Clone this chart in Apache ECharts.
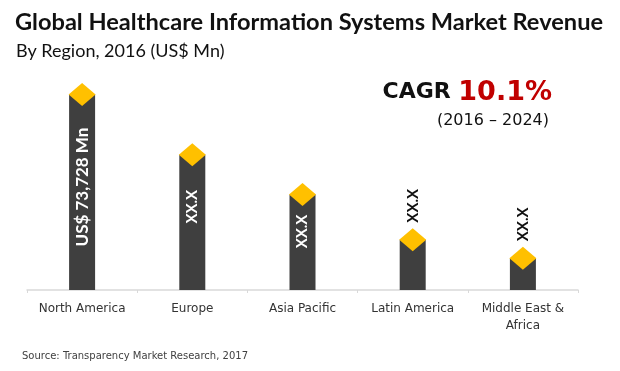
<!DOCTYPE html>
<html>
<head>
<meta charset="utf-8">
<script src="https://cdn.jsdelivr.net/npm/echarts@6/dist/echarts.min.js"></script>
<style>
html,body{margin:0;padding:0;background:#fff;}
#chart{width:620px;height:371px;}
</style>
</head>
<body>
<div id="chart"></div>
<script>
var categories = ['North America', 'Europe', 'Asia Pacific', 'Latin America', 'Middle East &\nAfrica'];
var revenue = [73728, 51000, 36000, 19000, 12000];
var barLabels = ['US$ 73,728 Mn', 'XX.X', 'XX.X', 'XX.X', 'XX.X'];
var labelInside = [true, true, true, false, false];
var insideDistance = [33, 35, 20, 0, 0];

var chart = echarts.init(document.getElementById('chart'), null, {renderer: 'canvas'});

var barData = revenue.map(function (v, i) {
  var lbl;
  if (labelInside[i]) {
    lbl = {
      show: true, position: 'insideTop', rotate: 90, align: 'right', verticalAlign: 'middle',
      distance: insideDistance[i], color: '#ffffff', fontFamily: 'Lato', fontWeight: 'bold',
      fontSize: i === 0 ? 17 : 15, formatter: barLabels[i]
    };
  } else {
    lbl = {
      show: true, position: 'top', rotate: 90, align: 'left', verticalAlign: 'middle',
      distance: 17, color: '#111111', fontFamily: 'Lato', fontWeight: 'bold',
      fontSize: 15, formatter: barLabels[i]
    };
  }
  return {value: v, label: lbl};
});

var option = {
  backgroundColor: '#ffffff',
  animation: false,
  title: [
    {
      text: 'Global Healthcare Information Systems Market Revenue',
      left: 10, top: 5,
      textStyle: {fontFamily: 'Lato', fontWeight: 'bold', fontSize: 23.6, color: '#111111'}
    },
    {
      text: 'By Region, 2016 (US$ Mn)',
      left: 11, top: 37,
      textStyle: {fontFamily: 'Lato', fontWeight: 'normal', fontSize: 18, color: '#111111'}
    },
    {
      text: '{a|CAGR }{b|10.1%}',
      right: 63, top: 74,
      textStyle: {
        rich: {
          a: {fontFamily: 'DejaVu Sans', fontWeight: 'bold', fontSize: 22, color: '#111111'},
          b: {fontFamily: 'DejaVu Sans', fontWeight: 'bold', fontSize: 27, color: '#C00000'}
        }
      }
    },
    {
      text: '(2016 \u2013 2024)',
      right: 66, top: 108,
      textStyle: {fontFamily: 'DejaVu Sans', fontWeight: 'normal', fontSize: 16, color: '#111111'}
    },
    {
      text: 'Source: Transparency Market Research, 2017',
      left: 17, top: 346,
      textStyle: {fontFamily: 'DejaVu Sans', fontWeight: 'normal', fontSize: 10, color: '#404040'}
    }
  ],
  grid: {left: 27, right: 42, top: 78, bottom: 81},
  xAxis: {
    type: 'category',
    data: categories,
    boundaryGap: true,
    axisLine: {lineStyle: {color: '#d9d9d9', width: 1.5}},
    axisTick: {show: true, length: 3, lineStyle: {color: '#d9d9d9'}},
    axisLabel: {
      interval: 0, margin: 10, fontFamily: 'DejaVu Sans', fontSize: 12,
      color: '#333333', lineHeight: 17
    }
  },
  yAxis: {
    type: 'value', min: 0, max: 80000, show: false,
    splitLine: {show: false}
  },
  series: [
    {
      type: 'bar',
      data: barData,
      barWidth: 26,
      itemStyle: {color: '#3F3F3F'},
      z: 2
    },
    {
      type: 'scatter',
      data: revenue,
      symbol: 'diamond',
      symbolSize: [27, 23],
      itemStyle: {color: '#FFC000', opacity: 1},
      z: 5,
      silent: true
    }
  ]
};
chart.setOption(option);
</script>
</body>
</html>
